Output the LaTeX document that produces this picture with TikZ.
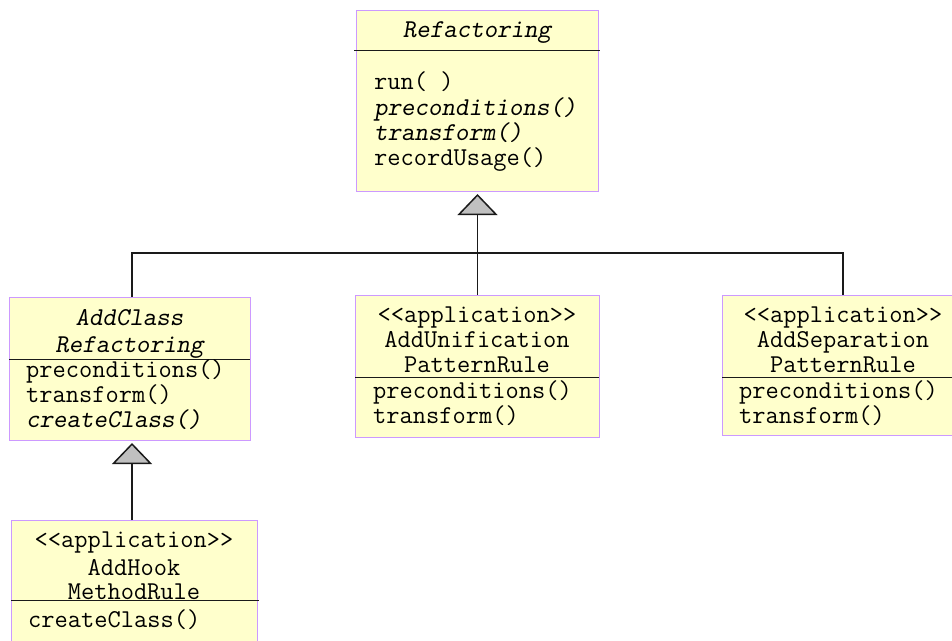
\documentclass[tikz,border=0pt]{standalone}
\usepackage{fontspec}
\usetikzlibrary{arrows.meta}
\newcommand{\umlfont}{\ttfamily\fontsize{25.7pt}{25pt}\selectfont}
\newcommand{\umlabstract}{\slshape}
\definecolor{umlfill}{HTML}{FFFFCC}
\definecolor{umlborder}{HTML}{CC99FF}
\definecolor{umlline}{HTML}{1A1A1A}
\definecolor{umlhead}{HTML}{C0C0C0}
\tikzset{
  classbox/.style={draw=umlborder, fill=umlfill, line width=1pt, inner sep=0pt,
    anchor=north west},
  member/.style={inner sep=0pt, font=\umlfont, anchor=base west},
  classname/.style={inner sep=0pt, font=\umlfont, anchor=base},
  divider/.style={draw=umlline, line width=1pt},
  gen/.style={draw=umlline, line width=1.5pt},
  genhead/.style={-{Triangle[width=40pt,length=21pt,fill=umlhead,line join=miter]},
    shorten >=2pt},
}
\begin{document}
\begin{tikzpicture}[x=1pt,y=-1pt]
\useasboundingbox (0,0) rectangle (952,640);
\fill[white] (0,0) rectangle (952,640);

% class boxes
\node[classbox, minimum width=242pt, minimum height=181pt] (ref)      at (356,10)  {};
\node[classbox, minimum width=241pt, minimum height=143pt] (addclass) at (9,297)   {};
\node[classbox, minimum width=244pt, minimum height=142pt] (addunif)  at (355,295) {};
\node[classbox, minimum width=242pt, minimum height=140pt] (addsep)   at (722,295) {};
\node[classbox, minimum width=246pt, minimum height=140pt] (addhook)  at (11,520)  {};

% compartment dividers
\draw[divider] (354,50)  -- (600,50);
\draw[divider] (9,359)   -- (250,359);
\draw[divider] (355,377) -- (599,377);
\draw[divider] (722,377) -- (964,377);
\draw[divider] (11,600)  -- (259,600);

% Refactoring
\node[classname] (refT) at (477,37) {\umlabstract Refactoring};
\node[member] (refM1) at (374,89)  {run( )};
\node[member] (refM2) at (374,115) {\umlabstract preconditions()};
\node[member] (refM3) at (374,140) {\umlabstract transform()};
\node[member] (refM4) at (374,165) {recordUsage()};

% AddClassRefactoring
\node[classname] (acT1) at (129.5,325) {\umlabstract AddClass};
\node[classname] (acT2) at (129.5,352) {\umlabstract Refactoring};
\node[member] (acM1) at (26,377) {preconditions()};
\node[member] (acM2) at (26,402) {transform()};
\node[member] (acM3) at (26,427) {\umlabstract createClass()};

% AddUnificationPatternRule
\node[classname] (auS)  at (477,322) {<{}<application>{}>};
\node[classname] (auT1) at (477,347) {AddUnification};
\node[classname] (auT2) at (477,372) {PatternRule};
\node[member] (auM1) at (373,398) {preconditions()};
\node[member] (auM2) at (373,423) {transform()};

% AddSeparationPatternRule
\node[classname] (asS)  at (843,322) {<{}<application>{}>};
\node[classname] (asT1) at (843,347) {AddSeparation};
\node[classname] (asT2) at (843,372) {PatternRule};
\node[member] (asM1) at (739,398) {preconditions()};
\node[member] (asM2) at (739,423) {transform()};

% AddHookMethodRule
\node[classname] (ahS)  at (134,547) {<{}<application>{}>};
\node[classname] (ahT1) at (134,575) {AddHook};
\node[classname] (ahT2) at (134,599) {MethodRule};
\node[member] (ahM1) at (28,627) {createClass()};

% generalisation connectors
\coordinate (busL) at (132,253);
\coordinate (busR) at (843,253);
\draw[gen] (addclass.north -| busL) |- (busR) -- (busR |- addsep.north);
\draw[gen, genhead] (addunif.north) -- (ref.south);
\draw[gen, genhead] (addhook.north -| busL) -- (addclass.south -| busL);
\end{tikzpicture}
\end{document}
